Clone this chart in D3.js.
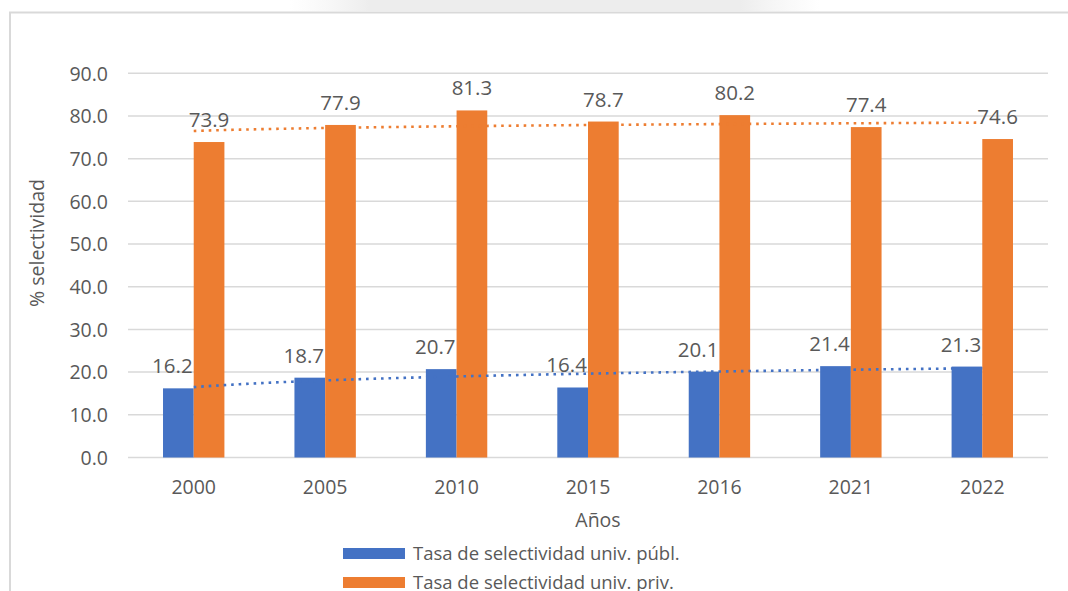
<!DOCTYPE html>
<html>
<head>
<meta charset="utf-8">
<script src="https://cdn.jsdelivr.net/npm/d3@7"></script>
<style>
  html, body { margin: 0; padding: 0; background: #ffffff; }
  svg { display: block; }
  text { font-family: "Open Sans", "Noto Sans", sans-serif; fill: #595959; }
</style>
</head>
<body>
<svg id="chart" width="1068" height="591"></svg>
<script>
// Years on the category axis
const years = ["2000", "2005", "2010", "2015", "2016", "2021", "2022"];
// Selectivity rate, public universities (%)
const publicRate = [16.2, 18.7, 20.7, 16.4, 20.1, 21.4, 21.3];
// Selectivity rate, private universities (%)
const privateRate = [73.9, 77.9, 81.3, 78.7, 80.2, 77.4, 74.6];
// Value-axis ticks
const yTicks = [0, 10, 20, 30, 40, 50, 60, 70, 80, 90];

const seriesNames = ["Tasa de selectividad univ. públ.", "Tasa de selectividad univ. priv."];
const colors = ["#4472C4", "#ED7D31"];
const series = [publicRate, privateRate];

const svg = d3.select("#chart");

// faint background stripe above the chart frame
const fade = svg.append("defs").append("linearGradient").attr("id", "fade");
fade.append("stop").attr("offset", "0%").attr("stop-color", "#f2f2f2").attr("stop-opacity", 0);
fade.append("stop").attr("offset", "15%").attr("stop-color", "#ededed").attr("stop-opacity", 1);
fade.append("stop").attr("offset", "85%").attr("stop-color", "#ededed").attr("stop-opacity", 1);
fade.append("stop").attr("offset", "100%").attr("stop-color", "#f2f2f2").attr("stop-opacity", 0);
svg.append("rect")
  .attr("x", 290).attr("y", 0).attr("width", 530).attr("height", 11)
  .attr("fill", "url(#fade)");

// chart frame (open at right and bottom, cropped)
svg.append("path")
  .attr("d", "M10,600 L10,12.5 L1080,12.5")
  .attr("fill", "none")
  .attr("stroke", "#d9d9d9")
  .attr("stroke-width", 2);

const plot = { left: 128, right: 1048, top: 73.3, bottom: 457.5 };

const x = d3.scaleBand()
  .domain(years)
  .range([plot.left, plot.right])
  .paddingInner(0)
  .paddingOuter(0);

const y = d3.scaleLinear()
  .domain([0, 90])
  .range([plot.bottom, plot.top]);

const barW = 30.7;
const xSub = d3.scaleBand()
  .domain([0, 1])
  .range([-barW, barW]);

// gridlines
svg.append("g")
  .selectAll("line")
  .data(yTicks)
  .join("line")
  .attr("x1", plot.left).attr("x2", plot.right)
  .attr("y1", d => y(d)).attr("y2", d => y(d))
  .attr("stroke", "#d9d9d9")
  .attr("stroke-width", 1.5);

// y axis tick labels
const yAxis = d3.axisLeft(y).tickValues(yTicks).tickFormat(d3.format(".1f")).tickSize(0).tickPadding(0);
const gy = svg.append("g").attr("transform", `translate(${plot.left - 20},0)`).call(yAxis);
gy.select(".domain").remove();
gy.selectAll("text")
  .style("font-size", "19.5px")
  .attr("fill", "#595959")
  .attr("dy", "0.35em");

// x axis labels
const xAxis = d3.axisBottom(x).tickSize(0).tickPadding(0);
const gx = svg.append("g").attr("transform", `translate(0,${plot.bottom})`).call(xAxis);
gx.select(".domain").remove();
gx.selectAll("text")
  .style("font-size", "19.5px")
  .attr("fill", "#595959")
  .attr("y", 36)
  .attr("dy", 0);

// bars
series.forEach((vals, si) => {
  svg.append("g")
    .selectAll("rect")
    .data(vals)
    .join("rect")
    .attr("x", (d, i) => x(years[i]) + x.bandwidth() / 2 + xSub(si))
    .attr("width", xSub.bandwidth())
    .attr("y", d => y(d))
    .attr("height", d => y(0) - y(d))
    .attr("fill", colors[si]);
});

// logarithmic trendlines fitted to each series (y = a + b·ln(k), k = 1..n)
function logFit(vals) {
  const lx = vals.map((_, i) => Math.log(i + 1));
  const mx = d3.mean(lx), my = d3.mean(vals);
  let sxy = 0, sxx = 0;
  vals.forEach((v, i) => { sxy += (lx[i] - mx) * (v - my); sxx += (lx[i] - mx) ** 2; });
  const b = sxy / sxx, a = my - b * mx;
  return t => a + b * Math.log(t);
}
const xCont = d3.scaleLinear()
  .domain([1, years.length])
  .range([x(years[0]) + x.bandwidth() / 2, x(years[years.length - 1]) + x.bandwidth() / 2]);

series.forEach((vals, si) => {
  const f = logFit(vals);
  const pts = d3.range(1, years.length + 0.001, 0.05).map(t => [xCont(t), y(f(t))]);
  svg.append("path")
    .attr("d", d3.line()(pts))
    .attr("fill", "none")
    .attr("stroke", colors[si])
    .attr("stroke-width", 2.6)
    .attr("stroke-dasharray", "2.6 4.9");
});

// data labels
series.forEach((vals, si) => {
  svg.append("g")
    .selectAll("text")
    .data(vals)
    .join("text")
    .attr("x", (d, i) => x(years[i]) + x.bandwidth() / 2 + xSub(si) + xSub.bandwidth() / 2 - (si === 0 ? 6 : 0))
    .attr("y", d => y(d) - 15)
    .attr("text-anchor", "middle")
    .style("font-size", "20.5px")
    .text(d => d3.format(".1f")(d));
});

// axis titles
svg.append("text")
  .attr("transform", `translate(44,243) rotate(-90)`)
  .attr("text-anchor", "middle")
  .style("font-size", "19.5px")
  .text("% selectividad");

svg.append("text")
  .attr("x", 598).attr("y", 527)
  .attr("text-anchor", "middle")
  .style("font-size", "19.5px")
  .text("Años");

// legend
const legend = svg.append("g");
seriesNames.forEach((name, i) => {
  const ly = 548 + i * 29;
  legend.append("rect")
    .attr("x", 343).attr("y", ly).attr("width", 62).attr("height", 11)
    .attr("fill", colors[i]);
  legend.append("text")
    .attr("x", 413).attr("y", ly + 12)
    .style("font-size", "18.5px")
    .text(name);
});
</script>
</body>
</html>
